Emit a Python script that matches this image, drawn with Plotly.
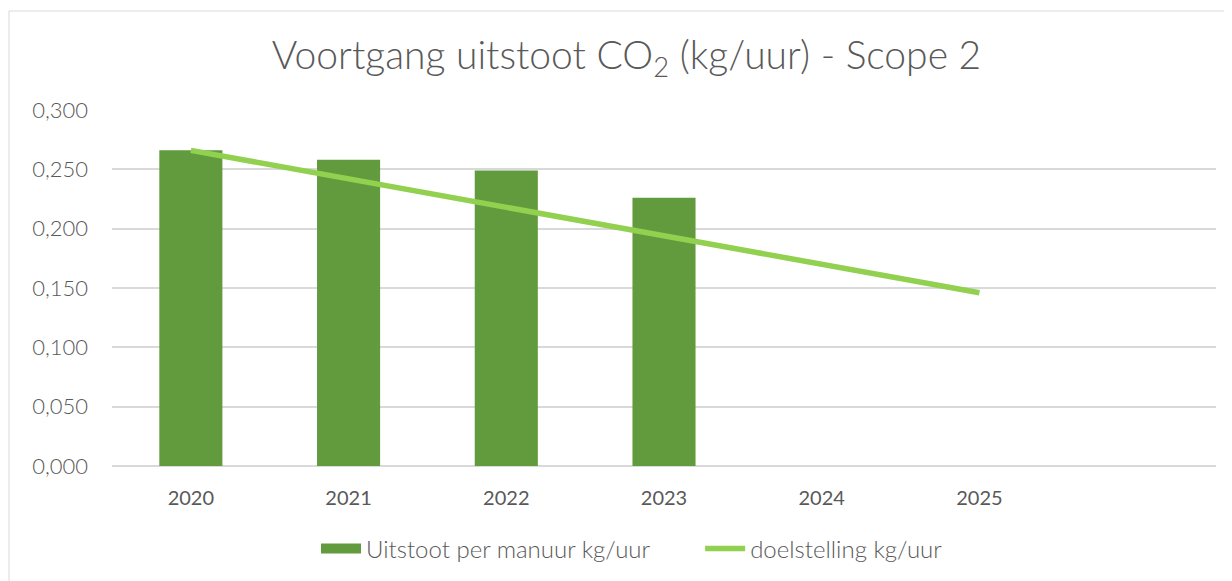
import plotly.graph_objects as go

years = ["2020", "2021", "2022", "2023", "2024", "2025"]
bar_years = ["2020", "2021", "2022", "2023"]
uitstoot = [0.266, 0.258, 0.249, 0.226]
doelstelling = [0.266, 0.242, 0.218, 0.194, 0.170, 0.146]
y_ticks = [0, 0.05, 0.10, 0.15, 0.20, 0.25, 0.30]

BAR_COLOR = "#629B3E"
LINE_COLOR = "#92D050"
TEXT_COLOR = "#595959"

W, H = 1232, 581
L, R, T, B = 104, 24, 102, 123
pw = W - L - R
ph = H - T - B

fig = go.Figure()
fig.add_trace(go.Bar(
    x=bar_years, y=uitstoot, name="Uitstoot per manuur kg/uur",
    marker=dict(color=BAR_COLOR, line=dict(width=0)), showlegend=False,
))
# legend entry for the bars (wide rectangle like the reference)
fig.add_trace(go.Scatter(
    x=[None], y=[None], name="Uitstoot per manuur kg/uur" + "\u00a0" * 7, mode="lines",
    line=dict(color=BAR_COLOR, width=13), hoverinfo="skip",
))
fig.add_trace(go.Scatter(
    x=years, y=doelstelling, name="doelstelling kg/uur", mode="lines",
    line=dict(color=LINE_COLOR, width=5.5),
))

def px_x(p):
    return (p - L) / pw

def px_y(p):
    return (H - B - p) / ph

fig.add_shape(type="rect", xref="paper", yref="paper",
              x0=px_x(1), x1=px_x(1300), y0=px_y(700), y1=px_y(3),
              line=dict(color="#D9D9D9", width=1), fillcolor="rgba(0,0,0,0)", layer="below")

fig.update_layout(
    width=W, height=H,
    margin=dict(l=L, r=R, t=T, b=B),
    paper_bgcolor="white", plot_bgcolor="white",
    separators=",.",
    bargap=0.6,
    title=dict(text="Voortgang uitstoot CO<sub>2</sub> (kg/uur) - Scope 2",
               x=0.502, xanchor="center", y=1 - 47 / H, yanchor="middle",
               font=dict(family="Lato", size=39, color=TEXT_COLOR, weight=300)),
    legend=dict(orientation="h", x=px_x(624), xanchor="center", y=px_y(541), yanchor="middle",
                font=dict(family="Lato", size=24, color=TEXT_COLOR, weight=300),
                traceorder="normal", itemwidth=40),
    xaxis=dict(type="category", categoryorder="array", categoryarray=years,
               range=[-0.5, 6.5], showgrid=False, showline=False, zeroline=False,
               ticks="", tickfont=dict(family="Lato", size=20, color=TEXT_COLOR),
               ticklabelstandoff=18),
    yaxis=dict(range=[0, 0.3], tickvals=y_ticks, tickformat=".3f",
               showgrid=True, gridcolor="#D9D9D9", gridwidth=1.5,
               zeroline=True, zerolinecolor="#D9D9D9", zerolinewidth=1.5,
               showline=False, ticks="", ticklabelstandoff=23,
               tickfont=dict(family="Lato", size=22, color=TEXT_COLOR, weight=300)),
)

fig.write_html("out.html")
